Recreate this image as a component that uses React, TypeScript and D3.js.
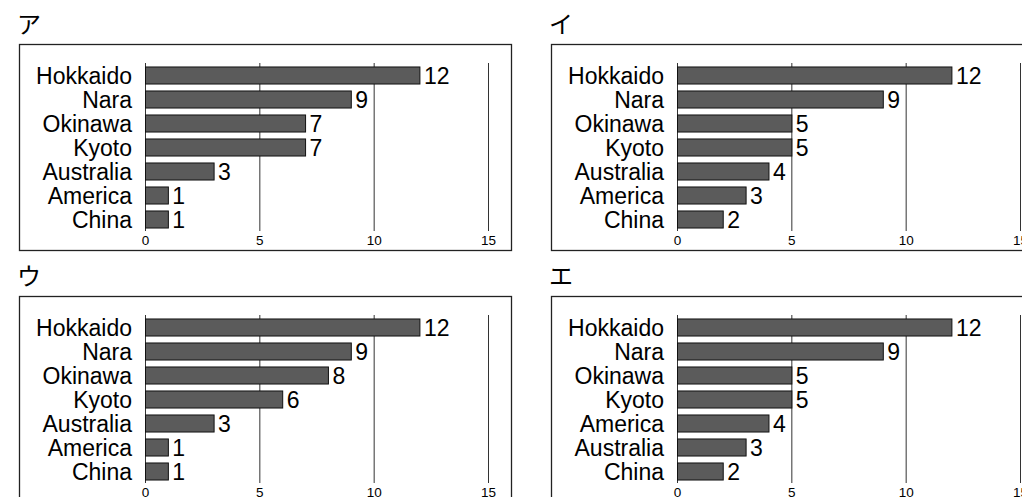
import React from 'react';
import * as d3 from 'd3';

// Panel titles (katakana labels)
const panelTitles = ['ア', 'イ', 'ウ', 'エ'];

const categoriesA = ['Hokkaido', 'Nara', 'Okinawa', 'Kyoto', 'Australia', 'America', 'China'];
const valuesA = [12, 9, 7, 7, 3, 1, 1];

const categoriesI = ['Hokkaido', 'Nara', 'Okinawa', 'Kyoto', 'Australia', 'America', 'China'];
const valuesI = [12, 9, 5, 5, 4, 3, 2];

const categoriesU = ['Hokkaido', 'Nara', 'Okinawa', 'Kyoto', 'Australia', 'America', 'China'];
const valuesU = [12, 9, 8, 6, 3, 1, 1];

const categoriesE = ['Hokkaido', 'Nara', 'Okinawa', 'Kyoto', 'America', 'Australia', 'China'];
const valuesE = [12, 9, 5, 5, 4, 3, 2];

const xTicks = [0, 5, 10, 15];

const panels = [
  { title: panelTitles[0], categories: categoriesA, values: valuesA },
  { title: panelTitles[1], categories: categoriesI, values: valuesI },
  { title: panelTitles[2], categories: categoriesU, values: valuesU },
  { title: panelTitles[3], categories: categoriesE, values: valuesE },
];

const W = 1022;
const H = 497;
const colStep = 532;
const rowStep = 252;

const latin = '"Liberation Sans", Arial, Helvetica, sans-serif';
const cjk = '"Noto Sans CJK JP", sans-serif';

const Panel: React.FC<{ title: string; categories: string[]; values: number[] }> = ({
  title,
  categories,
  values,
}) => {
  const x = d3.scaleLinear().domain([0, 15]).range([145.5, 488.5]);
  const y = d3
    .scaleBand<string>()
    .domain(categories)
    .range([63.5, 231.5])
    .paddingInner(0.29)
    .paddingOuter(0.145);

  const gridTop = 63;
  const gridBottom = 231;

  return (
    <g>
      <text x={17} y={33} fontFamily={cjk} fontSize={24} fill="#000">
        {title}
      </text>
      <rect x={19.5} y={44.5} width={492} height={206} fill="none" stroke="#222" strokeWidth={1.3} />

      {/* grid lines */}
      {xTicks.map((t) => (
        <line
          key={t}
          x1={x(t)}
          x2={x(t)}
          y1={gridTop}
          y2={gridBottom}
          stroke="#333"
          strokeWidth={1}
        />
      ))}

      {/* bars */}
      {categories.map((c, i) => (
        <rect
          key={c}
          x={x(0)}
          y={y(c)}
          width={x(values[i]) - x(0)}
          height={y.bandwidth()}
          fill="#5b5b5b"
          stroke="#111"
          strokeWidth={1}
        />
      ))}

      {/* category labels */}
      {categories.map((c) => (
        <text
          key={'l' + c}
          x={x(0) - 13.5}
          y={(y(c) ?? 0) + y.bandwidth() / 2}
          dy="0.36em"
          textAnchor="end"
          fontFamily={latin}
          fontSize={23}
          fill="#000"
        >
          {c}
        </text>
      ))}

      {/* value labels */}
      {categories.map((c, i) => (
        <text
          key={'v' + c}
          x={x(values[i]) + 4}
          y={(y(c) ?? 0) + y.bandwidth() / 2}
          dy="0.36em"
          fontFamily={latin}
          fontSize={23}
          fill="#000"
        >
          {values[i]}
        </text>
      ))}

      {/* tick labels */}
      {xTicks.map((t) => (
        <text
          key={'t' + t}
          x={x(t)}
          y={240}
          dy="0.36em"
          textAnchor="middle"
          fontFamily={latin}
          fontSize={13.5}
          fill="#000"
        >
          {t}
        </text>
      ))}
    </g>
  );
};

export default function App() {
  return (
    <div style={{ position: 'fixed', left: 0, top: 0, width: W, height: H, overflow: 'hidden', background: '#fff' }}>
      <svg width={W} height={H} style={{ display: 'block' }}>
        {panels.map((p, i) => (
          <g key={p.title} transform={`translate(${(i % 2) * colStep},${Math.floor(i / 2) * rowStep})`}>
            <Panel title={p.title} categories={p.categories} values={p.values} />
          </g>
        ))}
      </svg>
    </div>
  );
}
